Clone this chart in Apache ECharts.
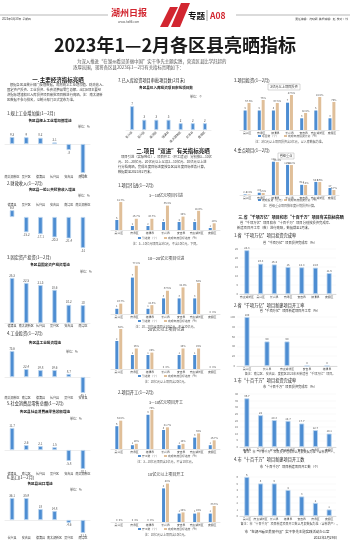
<!DOCTYPE html>
<html>
<head>
<meta charset="utf-8">
<script src="https://cdn.jsdelivr.net/npm/echarts@6/dist/echarts.min.js"></script>
<style>
html, body { margin: 0; padding: 0; background: #fff; }
#main { width: 350px; height: 543px; }
</style>
</head>
<body>
<div id="main"></div>
<script>
// ---- data: left column (增速, %) ----
var indCats = ['南太湖新区', '吴兴区', '德清县', '长兴县', '安吉县', '南浔区'];
var indVals = [9.3, 9.0, 8.2, 2.1, -8.0, -38.6];
var finCats = ['德清县', '吴兴区', '长兴县', '安吉县', '南浔区', '南太湖新区'];
var finVals = [6.8, -15.2, -17.1, -20.3, -21.4, -31.0];
var fixCats = ['德清县', '南太湖新区', '长兴县', '吴兴区', '安吉县', '南浔区'];
var fixVals = [25.3, 22.5, 21.3, 18.6, 10.2, 10.0];
var indInvCats = ['南太湖新区', '南浔区', '德清县', '长兴县', '吴兴区', '安吉县'];
var indInvVals = [73.6, 22.4, 19.8, 19.6, 8.7, -45.1];
var retailCats = ['德清县', '南浔区', '长兴县', '吴兴区', '安吉县', '南太湖新区'];
var retailVals = [11.7, 2.6, 2.1, 1.5, -5.8, -10.1];
var exportCats = ['长兴县', '安吉县', '德清县', '南太湖新区', '吴兴区', '南浔区'];
var exportVals = [36.1, 35.9, 18.0, 14.8, -4.6, -21.3];
var approveCats = ['长兴县', '吴兴区', '南浔区', '德清县', '南太湖新区', '安吉县', '度假区'];
var approveVals = [7, 3, 3, 3, 2, 2, 2];

// ---- data: 项目"双进" (个 / %) ----
var districts7 = ['吴兴区', '南浔区', '德清县', '长兴县', '安吉县', '南太湖新区', '度假区'];
var intro310Num = [5, 2, 2, 4, 4, 4, 1];
var intro310Pct = [41.7, 16.7, 16.7, 36.4, 20.0, 28.6, 10.0];
var intro1020Num = [1, 7, 1, 3, 3, 3, 0];
var intro1020Pct = [16.7, 77.8, 14.3, 37.5, 42.9, 50.0, 0];
var intro20Num = [2, 1, 1, 0, 1, 1, 0];
var intro20Pct = [50.0, 25.0, 20.0, 0, 25.0, 25.0, 0];
var start310Num = [6, 1, 9, 5, 1, 3, 1];
var start310Pct = [54.5, 10.0, 75.0, 41.7, 10.0, 30.0, 16.7];
var start10Num = [0, 0, 0, 4, 1, 1, 1];
var start10Pct = [0, 0, 0, 80.0, 20.0, 20.0, 33.3];
var invest3Num = [5, 5, 5, 7, 3, 5, 3];
var invest3Pct = [67.5, 75.0, 67.5, 87.5, 42.5, 82.5, 70.0];
var keyInv = [2.1, 8.6, 128.0, 115.8, 39.2, 50.3, 27.0];
var keyPct = [0.4, 1.5, 24.4, 22.2, 7.4, 9.6, 3.7];

// ---- data: 千项万亿 / 十百千万 ----
var provInvCats = ['南太湖新区', '吴兴区', '长兴县', '南浔区', '安吉县', '德清县', '度假区'];
var provInvVals = [24.3, 16.8, 16.4, 15.0, 14.8, 14.6, 11.6];
var provInvTicks = { min: 0, max: 25, step: 5 };
var provStartCats = ['吴兴区', '长兴县', '南太湖新区', '安吉县', '德清县'];
var provStartVals = [100, 50, 50, 0, 0];
var provStartTicks = { min: 0, max: 100, step: 20 };
var cityInvCats = ['德清县', '吴兴区', '长兴县', '南太湖新区', '安吉县', '南浔区', '度假区'];
var cityInvVals = [36.7, 24.0, 20.3, 19.7, 17.7, 12.7, 10.1];
var cityInvTicks = { min: 0, max: 40, step: 5 };
var cityStartCats = ['吴兴区', '南太湖新区', '长兴县', '德清县', '安吉县', '南浔区', '度假区'];
var cityStartVals = [6, 5, 5, 4, 3, 2, 1];
var cityStartTicks = { min: 0, max: 6, step: 1 };

var FONT = '"Noto Sans CJK SC", "Noto Sans", sans-serif';
var BLUE = '#4d8dd2', TAN = '#e0bf99', EDGE = '#bcd5ef', RED = '#d22630';

var option = {
    animation: false,
    backgroundColor: '#fff',
    textStyle: { fontFamily: FONT },
    grid: [], xAxis: [], yAxis: [], series: [], graphic: []
};

function txt(x, y, s, size, o) {
    o = o || {};
    option.graphic.push({
        type: 'text', x: x, y: y, silent: true,
        style: {
            text: s, fill: o.color || '#333',
            font: (o.bold ? 'bold ' : '') + size + 'px ' + FONT,
            textAlign: o.align || 'left', align: o.align || 'left',
            textVerticalAlign: 'middle', verticalAlign: 'middle'
        }
    });
}
function line(x1, y1, x2, y2, color, w) {
    option.graphic.push({ type: 'line', silent: true, shape: { x1: x1, y1: y1, x2: x2, y2: y2 },
        style: { stroke: color || '#999', lineWidth: w || 0.5 } });
}
function rect(x, y, w, h, fill, stroke) {
    option.graphic.push({ type: 'rect', silent: true, shape: { x: x, y: y, width: w, height: h },
        style: { fill: fill || 'none', stroke: stroke || null, lineWidth: 0.4 } });
}

// simple +/- bars, hidden value axis, category labels on the zero line
function simpleBar(cats, vals, o) {
    var gi = option.grid.length;
    option.grid.push({ left: o.left, width: o.width, top: o.base - o.max * o.scale,
        height: (o.max - o.min) * o.scale });
    option.xAxis.push({
        type: 'category', gridIndex: gi, data: cats, position: o.top ? 'top' : 'bottom',
        axisLine: { show: !o.top, onZero: !o.top, lineStyle: { color: '#ddd', width: 0.5 } },
        axisTick: { show: false },
        axisLabel: { fontSize: 3, color: '#444', interval: 0, margin: o.top ? 3 : 1.5, rotate: o.rotate || 0 }
    });
    option.yAxis.push({ type: 'value', gridIndex: gi, min: o.min, max: o.max, show: false });
    option.series.push({
        type: 'bar', xAxisIndex: gi, yAxisIndex: option.yAxis.length - 1, barWidth: o.barWidth || 4.5,
        itemStyle: { color: BLUE, borderColor: EDGE, borderWidth: 0.8 },
        label: { show: true, fontSize: 3, color: '#555', distance: 1 },
        data: vals.map(function (v) { return { value: v, label: { position: v < 0 ? 'bottom' : 'top' } }; })
    });
}

// grouped blue/tan bars, each on its own hidden axis
function pairBar(cats, a, b, o) {
    var gi = option.grid.length;
    option.grid.push({ left: o.left, width: o.width, top: o.base - o.h, height: o.h });
    option.xAxis.push({
        type: 'category', gridIndex: gi, data: cats,
        axisLine: { lineStyle: { color: '#ccc', width: 0.5 } }, axisTick: { show: false },
        axisLabel: { fontSize: 2.8, color: '#444', interval: 0, margin: 1.5 }
    });
    var ya = option.yAxis.length;
    option.yAxis.push({ type: 'value', gridIndex: gi, min: 0, max: o.h / o.sa, show: false });
    option.yAxis.push({ type: 'value', gridIndex: gi, min: 0, max: o.h / o.sb, show: false });
    option.series.push({
        type: 'bar', xAxisIndex: gi, yAxisIndex: ya, barWidth: 3, barGap: '30%', data: a,
        itemStyle: { color: BLUE },
        label: { show: true, position: 'top', fontSize: 2.6, color: '#555', distance: 1 }
    });
    option.series.push({
        type: 'bar', xAxisIndex: gi, yAxisIndex: ya + 1, barWidth: 3, barGap: '30%', data: b,
        itemStyle: { color: TAN },
        label: { show: true, position: 'top', fontSize: 2.6, color: '#555', distance: 1, formatter: '{c}%' }
    });
    // legend + note
    var lx = o.lx;
    rect(lx, o.ly - 1, 3, 2, BLUE);
    txt(lx + 4, o.ly, o.nameA, 2.8, { color: '#555' });
    rect(lx + 26, o.ly - 1, 3, 2, TAN);
    txt(lx + 30, o.ly, o.nameB, 2.8, { color: '#555' });
    if (o.note) txt(o.cx, o.ly + 5.5, o.note, 3, { color: '#555', align: 'center' });
}

// bars with a visible value axis (right column)
function axisBar(cats, vals, ticks, o) {
    var gi = option.grid.length;
    option.grid.push({ left: o.left, width: o.width, top: o.top, height: o.height });
    option.xAxis.push({
        type: 'category', gridIndex: gi, data: cats,
        axisLine: { lineStyle: { color: '#bbb', width: 0.5 } }, axisTick: { show: false },
        axisLabel: { fontSize: 2.8, color: '#444', interval: 0, margin: 1.5 }
    });
    option.yAxis.push({
        type: 'value', gridIndex: gi, min: ticks.min, max: ticks.max, interval: ticks.step,
        axisLine: { show: false }, axisTick: { show: false },
        axisLabel: { fontSize: 2.8, color: '#666', margin: 2 },
        splitLine: { lineStyle: { color: '#eee', width: 0.4 } }
    });
    option.series.push({
        type: 'bar', xAxisIndex: gi, yAxisIndex: option.yAxis.length - 1, barWidth: o.barWidth || 5,
        itemStyle: { color: BLUE, borderColor: EDGE, borderWidth: 0.8 },
        label: { show: true, position: 'top', fontSize: 2.8, color: '#555', distance: 1 },
        data: vals
    });
}

// ---- masthead ----
line(0, 15, 108, 15, '#888', 0.6);
line(236, 15, 350, 15, '#888', 0.6);
txt(2, 18.5, '2023年3月30日  星期四', 2.8, { color: '#444' });
txt(348, 18.5, '责任编辑：沈晓颖  美术编辑：赵  校对：钱', 2.8, { color: '#444', align: 'right' });
txt(111, 13, '湖州日报', 9, { color: RED, bold: true });
txt(118, 22, 'www.hz66.com', 3, { color: '#555' });
option.graphic.push({ type: 'polygon', silent: true, shape: { points: [[170, 7], [178, 7], [168, 27], [160, 27]] }, style: { fill: RED } });
option.graphic.push({ type: 'polygon', silent: true, shape: { points: [[181, 3], [190, 3], [180, 27], [171, 27]] }, style: { fill: RED } });
txt(188, 15.5, '专题', 8.5, { color: '#111', bold: true });
line(207, 10, 207, 21, '#666', 0.6);
txt(210, 15.5, 'A08', 8.5, { color: RED, bold: true });

txt(175, 45, '2023年1—2月各区县亮晒指标', 18, { color: '#1a1a1a', bold: true, align: 'center' });
txt(77, 61, '为深入推进“在湖州看见美丽中国”实干争先主题实践，营造区县比学赶超的', 4.4, { color: '#555' });
txt(73, 67, '浓厚氛围，现将各区县2023年1—2月有关指标亮晒如下：', 4.4, { color: '#555' });

// ---- left column ----
txt(58, 80, '一.主要经济指标亮晒', 5.5, { bold: true, color: '#222', align: 'center' });
txt(10, 85, '根据各区县统计部门反馈数据，现将规上工业增加值、财政收入、', 3.3, { color: '#444' });
txt(7, 90, '固定资产投资、工业投资、社会消费品零售总额、出口6项主要经', 3.3, { color: '#444' });
txt(7, 95, '济指标增速和已入库投资项目审批项目数进行亮晒。注：南太湖新', 3.3, { color: '#444' });
txt(7, 100, '区数据不参与排名，以统计部门正式发布为准。', 3.3, { color: '#444' });

txt(7, 113, '1.规上工业增加值(1—2月)', 4.2, { color: '#222' });
txt(50, 121, '各区县规上工业增加值增速', 3.6, { bold: true, color: '#222', align: 'center' });
txt(78, 127, '单位：%', 3, { color: '#555' });
simpleBar(indCats, indVals, { left: 5, width: 85, base: 144, scale: 0.75, min: -40, max: 10 });

txt(7, 183, '2.财政收入(1—2月)', 4.2, { color: '#222' });
txt(52, 190, '各区县一般公共预算收入增速', 3.6, { bold: true, color: '#222', align: 'center' });
txt(78, 196, '单位：%', 3, { color: '#555' });
simpleBar(finCats, finVals, { left: 5, width: 85, base: 217, scale: 1.0, min: -32, max: 8, top: true });

txt(7, 257, '3.固定资产投资(1—2月)', 4.2, { color: '#222' });
txt(50, 265, '各区县固定资产投资增速', 3.6, { bold: true, color: '#222', align: 'center' });
txt(80, 272, '单位：%', 3, { color: '#555' });
simpleBar(fixCats, fixVals, { left: 5, width: 85, base: 323, scale: 1.78, min: 0, max: 27 });

txt(7, 333, '4.工业投资(1—2月)', 4.2, { color: '#222' });
txt(45, 343, '各区县工业投资增速', 3.6, { bold: true, color: '#222', align: 'center' });
txt(66, 352, '单位：%', 3, { color: '#555' });
simpleBar(indInvCats, indInvVals, { left: 5, width: 85, base: 377, scale: 0.353, min: -50, max: 80 });

txt(7, 403, '5.社会消费品零售总额(1—2月)', 4.2, { color: '#222' });
txt(45, 412, '各区县社会消费品零售总额增速', 3.6, { bold: true, color: '#222', align: 'center' });
txt(70, 419, '单位：%', 3, { color: '#555' });
simpleBar(retailCats, retailVals, { left: 5, width: 85, base: 450, scale: 1.88, min: -11, max: 13 });

txt(7, 477, '6.出口(1—2月)', 4.2, { color: '#222' });
txt(40, 484, '各区县出口增速', 3.6, { bold: true, color: '#222', align: 'center' });
txt(70, 490, '单位：%', 3, { color: '#555' });
simpleBar(exportCats, exportVals, { left: 5, width: 85, base: 520, scale: 0.61, min: -24, max: 38 });

// ---- middle column ----
txt(118, 80, '7.已入库投资项目审批项目数(2月末)', 4.2, { color: '#222' });
txt(166, 88, '各区县已入库投资项目审批项目数', 3.6, { bold: true, color: '#222', align: 'center' });
txt(190, 97, '单位：个', 3, { color: '#555' });
simpleBar(approveCats, approveVals, { left: 126, width: 85, base: 130, scale: 3.4, min: 0, max: 8, rotate: 45, barWidth: 4 });

txt(173, 151, '二.项目“双进”有关指标亮晒', 5.5, { bold: true, color: '#222', align: 'center' });
txt(121, 157, '项目引进（实际到位）、项目开工（开工建设）分别按3—10亿', 3.3, { color: '#444' });
txt(118, 162, '元、10—20亿元、20亿元以上以及3—10亿元、10亿元以上进', 3.3, { color: '#444' });
txt(118, 167, '行分档亮晒，完成年度目标进度按各区县年度目标任务计算，', 3.3, { color: '#444' });
txt(118, 172, '数据截至2023年2月末。', 3.3, { color: '#444' });

txt(118, 185, '1.项目引进(1—2月)', 4.2, { color: '#222' });
txt(166, 195, '3—10亿元项目引进', 4, { color: '#333', align: 'center' });
pairBar(districts7, intro310Num, intro310Pct, { left: 111, width: 109, base: 230, h: 32, sa: 2, sb: 0.67,
    lx: 138, ly: 238, cx: 166, nameA: '引进数（个）', nameB: '完成年度目标进度（%）',
    note: '注：3—10亿元项目含3亿元，不含10亿元，下同。' });

txt(166, 258, '10—20亿元项目引进', 4, { color: '#333', align: 'center' });
pairBar(districts7, intro1020Num, intro1020Pct, { left: 111, width: 109, base: 314, h: 52, sa: 5.2, sb: 0.62,
    lx: 138, ly: 321, cx: 166, nameA: '引进数（个）', nameB: '完成年度目标进度（%）',
    note: '注：10—20亿元项目含10亿元，不含20亿元。' });

txt(166, 329, '20亿元以上项目引进', 4, { color: '#333', align: 'center' });
pairBar(districts7, intro20Num, intro20Pct, { left: 111, width: 109, base: 369, h: 40, sa: 14, sb: 0.82,
    lx: 138, ly: 376, cx: 166, nameA: '引进数（个）', nameB: '完成年度目标进度（%）',
    note: '注：20亿元以上项目含20亿元。' });

txt(118, 392, '2.项目开工(1—2月)', 4.2, { color: '#222' });
txt(166, 402, '3—10亿元项目开工', 4, { color: '#333', align: 'center' });
pairBar(districts7, start310Num, start310Pct, { left: 111, width: 109, base: 449, h: 43, sa: 3.8, sb: 0.52,
    lx: 138, ly: 456, cx: 166, nameA: '开工数（个）', nameB: '完成年度目标进度（%）',
    note: '注：3—10亿元项目含3亿元，不含10亿元。' });

txt(166, 474, '10亿元以上项目开工', 4, { color: '#333', align: 'center' });
pairBar(districts7, start10Num, start10Pct, { left: 111, width: 109, base: 522, h: 42, sa: 8.4, sb: 0.48,
    lx: 138, ly: 529, cx: 166, nameA: '开工数（个）', nameB: '完成年度目标进度（%）',
    note: '注：10亿元以上项目含10亿元。' });

// ---- right column ----
txt(234, 80, '3.项目投资(1—2月)', 4.2, { color: '#222' });
rect(268, 84, 32, 6, null, '#999');
txt(284, 87, '3亿元以上项目投资', 3.2, { color: '#333', align: 'center' });
pairBar(districts7, invest3Num, invest3Pct, { left: 240, width: 99, base: 130, h: 38, sa: 3.9, sb: 0.4,
    lx: 258, ly: 136, cx: 290, nameA: '项目数（个）', nameB: '完成年度投资计划（%）',
    note: '注：3亿元以上项目投资含3亿元，以入库数据为准。' });

txt(234, 150, '4.重点项目(1—2月)', 4.2, { color: '#222' });
rect(278, 153, 16, 6, null, '#999');
txt(286, 156, '省级重点', 3.2, { color: '#333', align: 'center' });
pairBar(districts7, keyInv, keyPct, { left: 240, width: 99, base: 195, h: 37, sa: 0.26, sb: 1.35,
    lx: 258, ly: 200, cx: 290, nameA: '完成投资（亿元）', nameB: '完成年度投资计划（%）',
    note: '注：省级重点项目按年度计划投资计算。' });

txt(291, 217, '三.省“千项万亿”项目和市“十百千万”项目有关指标亮晒', 4, { bold: true, color: '#222', align: 'center' });
txt(240, 223, '省“千项万亿”项目和市“十百千万”项目分别按投资完成率、', 3.3, { color: '#444' });
txt(237, 228, '新建项目开工率（数）进行亮晒，数据截至2月末。', 3.3, { color: '#444' });

txt(234, 235, '1.省“千项万亿”项目投资完成率', 4.2, { color: '#222' });
txt(290, 243, '省“千项万亿”项目投资完成率（%）', 3.2, { color: '#333', align: 'center' });
axisBar(provInvCats, provInvVals, provInvTicks, { left: 240, width: 96, top: 249, height: 45 });

txt(234, 305, '2.省“千项万亿”项目新建项目开工率', 4.2, { color: '#222' });
txt(290, 311, '省“千项万亿”项目新建项目开工率（%）', 3.2, { color: '#333', align: 'center' });
axisBar(provStartCats, provStartVals, provStartTicks, { left: 237, width: 100, top: 317, height: 49 });
txt(290, 374, '备注：南浔区、安吉县、度假区2023年无新建省“千项万亿”项目。', 3, { color: '#555', align: 'center' });

txt(234, 380, '3.市“十百千万”项目投资完成率', 4.2, { color: '#222' });
txt(290, 387, '市“十百千万”项目投资完成率（%）', 3.2, { color: '#333', align: 'center' });
axisBar(cityInvCats, cityInvVals, cityInvTicks, { left: 240, width: 96, top: 394, height: 53 });
txt(290, 452, '备注：市“十百千万”项目投资完成率以月报数据为准（含新增产）。', 3, { color: '#555', align: 'center' });

txt(234, 459, '4.市“十百千万”项目新建项目开工数', 4.2, { color: '#222' });
txt(290, 467, '市“十百千万”项目新建项目开工数（个）', 3.2, { color: '#333', align: 'center' });
axisBar(cityStartCats, cityStartVals, cityStartTicks, { left: 240, width: 96, top: 477, height: 39 });
txt(290, 524, '备注：市“十百千万”项目新建项目开工数以月报数据为准（含新增产）。', 3, { color: '#555', align: 'center' });

txt(287, 532, '市“在湖州看见美丽中国”实干争先主题实践活动办公室', 3.4, { color: '#333', align: 'center' });
txt(337, 538, '2023年3月29日', 3.4, { color: '#333', align: 'right' });

var chart = echarts.init(document.getElementById('main'));
chart.setOption(option);
</script>
</body>
</html>
